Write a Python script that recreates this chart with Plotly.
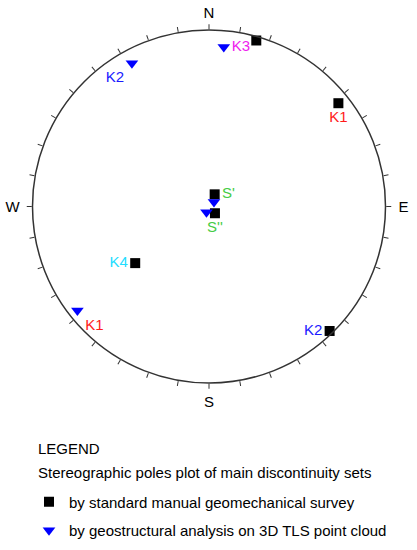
import plotly.graph_objects as go

# ---- data: stereographic poles (azimuth in degrees clockwise from N, normalized radial distance) ----
manual_sets = ["K3", "K1", "S'", "S''", "K4", "K2"]
manual_az = [15.9, 51.4, 25.0, 138.6, 232.5, 135.9]
manual_r = [0.978, 0.938, 0.076, 0.051, 0.527, 0.982]
manual_labels = ["", "K1", "S'", "S''", "K4", "K2"]

tls_sets = ["K3", "K2", "S'", "S''", "K1"]
tls_az = [5.3, 331.7, 48.0, 203.3, 231.7]
tls_r = [0.907, 0.921, 0.038, 0.036, 0.950]
tls_labels = ["K3", "K2", "", "", "K1"]

set_colors = {"K1": "#ff1a1a", "K2": "#1a1aff", "K3": "#ee22ee", "K4": "#22ddff",
              "S'": "#44cc44", "S''": "#44cc44", "": "#000000"}

tick_angles = list(range(0, 360, 10))
cardinal = {0: "N", 90: "\u00a0E", 180: "S", 270: "W\u00a0"}
tick_text = [cardinal.get(a, "") for a in tick_angles]

legend_title = "LEGEND"
legend_subtitle = "Stereographic poles plot of main discontinuity sets"
manual_name = "by standard manual geomechanical survey"
tls_name = "by geostructural analysis on 3D TLS point cloud"

FONT = "Liberation Sans, Arial, sans-serif"
FS = 15

manual_pos = ["middle center", "bottom center", "middle right", "bottom center", "middle left", "middle left"]
tls_pos = ["middle right", "bottom left", "middle center", "middle center", "bottom right"]

fig = go.Figure()
fig.add_trace(go.Scatterpolar(
    r=manual_r, theta=manual_az, mode="markers+text",
    marker=dict(symbol="square", size=10, color="black"),
    text=manual_labels, textposition=manual_pos,
    textfont=dict(family=FONT, size=FS, color=[set_colors[l] for l in manual_labels]),
    name=manual_name, legendgroup="a", cliponaxis=False,
))
fig.add_trace(go.Scatterpolar(
    r=tls_r, theta=tls_az, mode="markers+text",
    marker=dict(symbol="triangle-down", size=11, color="#0000ff"),
    text=tls_labels, textposition=tls_pos,
    textfont=dict(family=FONT, size=FS, color=[set_colors[l] for l in tls_labels]),
    name=tls_name, legendgroup="b", cliponaxis=False,
))

W, H = 417, 550
fig.update_layout(
    width=W, height=H,
    margin=dict(l=0, r=0, t=0, b=0),
    paper_bgcolor="white",
    font=dict(family=FONT, size=FS, color="black"),
    polar=dict(
        domain=dict(x=[32 / W, 386 / W], y=[(H - 383) / H, (H - 30) / H]),
        bgcolor="white",
        angularaxis=dict(
            rotation=90, direction="clockwise",
            tickmode="array", tickvals=tick_angles, ticktext=tick_text,
            ticks="outside", ticklen=5, tickwidth=1, tickcolor="#333333",
            showgrid=False, showline=True, linecolor="#333333", linewidth=1.5,
            tickfont=dict(family=FONT, size=FS, color="black"),
        ),
        radialaxis=dict(visible=False, range=[0, 1]),
    ),
    showlegend=True,
    legend=dict(
        x=29 / W, y=(H - 485.5) / H, xanchor="left", yanchor="top",
        traceorder="grouped", tracegroupgap=6,
        font=dict(family=FONT, size=FS, color="black"),
        bgcolor="rgba(0,0,0,0)", borderwidth=0,
    ),
    annotations=[
        dict(text=legend_title, x=36 / W, y=(H - 448.5) / H, xref="paper", yref="paper",
             xanchor="left", yanchor="middle", showarrow=False,
             font=dict(family=FONT, size=FS, color="black")),
        dict(text=legend_subtitle, x=36 / W, y=(H - 472) / H, xref="paper", yref="paper",
             xanchor="left", yanchor="middle", showarrow=False,
             font=dict(family=FONT, size=FS, color="black")),
    ],
)

fig.write_html("out.html", config={"displayModeBar": False},
               post_script="document.body.style.margin='0';")
